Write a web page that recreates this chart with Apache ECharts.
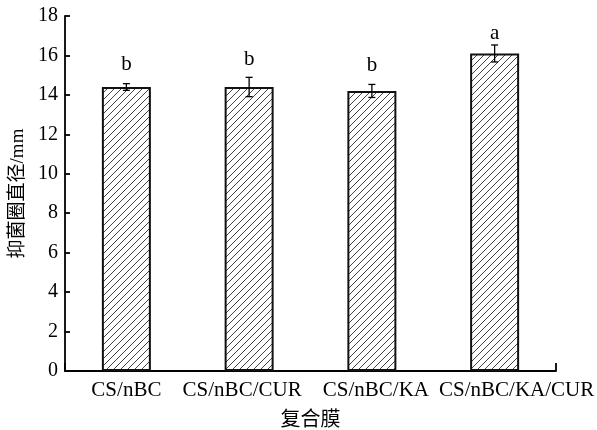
<!DOCTYPE html>
<html><head><meta charset="utf-8">
<script src="https://cdn.jsdelivr.net/npm/echarts@6/dist/echarts.min.js"></script>
<style>html,body{margin:0;padding:0;background:#fff}#c{width:597px;height:430px}</style>
</head><body><div id="c"></div>
<script>
var categories = ['CS/nBC', 'CS/nBC/CUR', 'CS/nBC/KA', 'CS/nBC/KA/CUR'];
var values = [14.4, 14.4, 14.2, 16.1];
var errors = [0.17, 0.49, 0.33, 0.43];
var letters = ['b', 'b', 'b', 'a'];
var letterPos = [15.25, 15.5, 15.2, 16.85];
var yTicks = [0, 2, 4, 6, 8, 10, 12, 14, 16, 18];

var labelPadding = [[0, 0, 0, 0], [0, 14, 0, 0], [0, 0, 0, 8], [0, 0, 0, 44]];

var pc = document.createElement('canvas');
pc.width = 7; pc.height = 7;
var g = pc.getContext('2d');
g.fillStyle = '#fff'; g.fillRect(0, 0, 7, 7);
g.strokeStyle = '#444'; g.lineWidth = 1;
g.beginPath();
g.moveTo(-1, 8); g.lineTo(8, -1);
g.moveTo(-8, 8); g.lineTo(1, -1);
g.moveTo(6, 8); g.lineTo(15, -1);
g.stroke();

var serif = '"Liberation Serif", "Times New Roman", "Noto Sans CJK SC", serif';
var chart = echarts.init(document.getElementById('c'));
chart.setOption({
  animation: false,
  grid: {left: 65, right: 41, top: 16, bottom: 59, outerBoundsMode: 'none', containLabel: false},
  xAxis: [{
    type: 'category',
    data: categories.map(function (c, i) { return {value: c, textStyle: {padding: labelPadding[i]}}; }),
    name: '复合膜', nameLocation: 'middle', nameGap: 40,
    nameTextStyle: {fontFamily: serif, fontSize: 20, color: '#000'},
    axisLine: {lineStyle: {color: '#000', width: 1.8}},
    axisTick: {show: false},
    axisLabel: {fontFamily: serif, fontSize: 21, color: '#000', margin: 9, interval: 0, hideOverlap: false}
  }, {
    type: 'value', min: 0, max: 1, interval: 1, position: 'bottom',
    axisLine: {show: false},
    axisTick: {show: true, inside: true, length: 8, lineStyle: {color: '#000', width: 1.8}},
    axisLabel: {show: false}, splitLine: {show: false}
  }],
  yAxis: {
    type: 'value', min: 0, max: 18, interval: 2,
    name: '抑菌圈直径/mm', nameLocation: 'middle', nameGap: 35,
    nameTextStyle: {fontFamily: serif, fontSize: 19, color: '#000'},
    axisLine: {show: true, lineStyle: {color: '#000', width: 1.8}},
    axisTick: {show: true, inside: true, length: 5, lineStyle: {color: '#000', width: 1.8}},
    axisLabel: {fontFamily: serif, fontSize: 20, color: '#000', margin: 7,
      formatter: function (v) { return yTicks.indexOf(v) >= 0 ? String(v) : ''; }},
    splitLine: {show: false}
  },
  series: [{
    type: 'bar', data: values, barWidth: 49,
    itemStyle: {color: {image: pc, repeat: 'repeat'}, borderColor: '#111', borderWidth: 2}
  }, {
    type: 'custom',
    data: values.map(function (v, i) { return [i, v, errors[i], letterPos[i]]; }),
    renderItem: function (params, api) {
      var x = api.value(0), v = api.value(1), e = api.value(2);
      var top = api.coord([x, v + e]);
      var bot = api.coord([x, v - e]);
      var lp = api.coord([x, api.value(3)]);
      var w = 3.5;
      var st = {stroke: '#000', lineWidth: 1.3};
      return {type: 'group', children: [
        {type: 'line', shape: {x1: top[0], y1: top[1], x2: bot[0], y2: bot[1]}, style: st},
        {type: 'line', shape: {x1: top[0] - w, y1: top[1], x2: top[0] + w, y2: top[1]}, style: st},
        {type: 'line', shape: {x1: bot[0] - w, y1: bot[1], x2: bot[0] + w, y2: bot[1]}, style: st},
        {type: 'text', x: lp[0], y: lp[1] + 5, style: {text: letters[params.dataIndex],
          fontFamily: serif, fontSize: 21, fill: '#000', align: 'center', verticalAlign: 'bottom'}}
      ]};
    },
    z: 10
  }]
});
</script></body></html>
